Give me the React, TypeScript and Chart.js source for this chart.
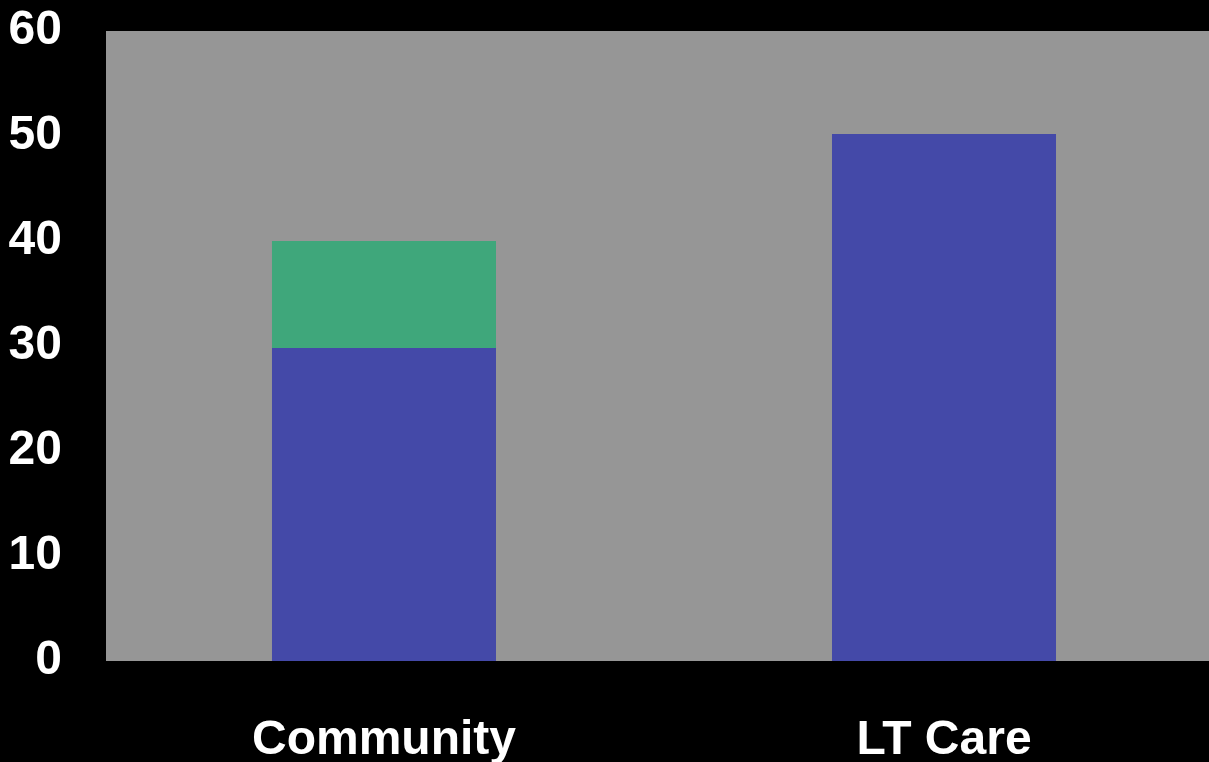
import React, { useEffect, useRef } from "react";
import { Chart, registerables } from "chart.js";

Chart.register(...registerables);

const categories = ["Community", "LT Care"];
const seriesBlue = [29.8, 50.2];
const seriesGreen = [10.2, 0];
const yTicks = [0, 10, 20, 30, 40, 50, 60];

const FONT = "'Liberation Sans', Arial, sans-serif";

const bgPlugin = {
  id: "bgPlugin",
  beforeDraw(chart: any) {
    const { ctx, chartArea, width, height } = chart;
    ctx.save();
    ctx.fillStyle = "#000000";
    ctx.fillRect(0, 0, width, height);
    ctx.fillStyle = "#969696";
    ctx.fillRect(chartArea.left, chartArea.top, chartArea.right - chartArea.left, chartArea.bottom - chartArea.top);
    ctx.restore();
  },
};

export default function App() {
  const ref = useRef<HTMLCanvasElement | null>(null);

  useEffect(() => {
    document.body.style.margin = "0";
    document.body.style.background = "#000";
    const canvas = ref.current;
    if (!canvas) return;
    const chart = new Chart(canvas, {
      type: "bar",
      data: {
        datasets: [
          {
            label: "A",
            data: seriesBlue.map((v, i) => ({ x: i, y: v })),
            backgroundColor: "#4449A8",
            categoryPercentage: 1,
            barPercentage: 0.4,
          },
          {
            label: "B",
            data: seriesGreen.map((v, i) => ({ x: i, y: v })),
            backgroundColor: "#3FA77B",
            categoryPercentage: 1,
            barPercentage: 0.4,
          },
        ],
      },
      options: {
        responsive: false,
        animation: false,
        layout: { padding: { top: 31, left: 0, right: 0, bottom: 0 } },
        plugins: {
          legend: { display: false },
          tooltip: { enabled: false },
        },
        scales: {
          x: {
            type: "linear",
            stacked: true,
            offset: false,
            bounds: "ticks",
            min: -0.4964,
            max: 1.4732,
            grid: { display: false, drawTicks: false },
            border: { display: false },
            afterBuildTicks: (scale: any) => {
              scale.ticks = categories.map((_, i) => ({ value: i }));
            },
            afterFit: (scale: any) => {
              scale.height = 101;
              scale.paddingLeft = 0;
              scale.paddingRight = 0;
            },
            ticks: {
              color: "#ffffff",
              padding: 51,
              maxRotation: 0,
              autoSkip: false,
              font: { family: FONT, size: 48, weight: "bold" },
              callback: (v: any) => categories[Math.round(Number(v))] ?? "",
            },
          },
          y: {
            stacked: true,
            min: 0,
            max: 60,
            grid: { display: false, drawTicks: false },
            border: { display: false },
            afterBuildTicks: (scale: any) => {
              scale.ticks = yTicks.map((v) => ({ value: v }));
            },
            afterFit: (scale: any) => {
              scale.width = 106;
              scale.paddingTop = 0;
              scale.paddingBottom = 0;
            },
            ticks: {
              color: "#ffffff",
              padding: 44,
              font: { family: FONT, size: 48, weight: "bold" },
            },
          },
        },
      },
      plugins: [bgPlugin],
    } as any);
    return () => chart.destroy();
  }, []);

  return (
    <div style={{ width: 1209, height: 762, background: "#000", overflow: "hidden" }}>
      <canvas ref={ref} width={1209} height={762} style={{ display: "block" }} />
    </div>
  );
}
